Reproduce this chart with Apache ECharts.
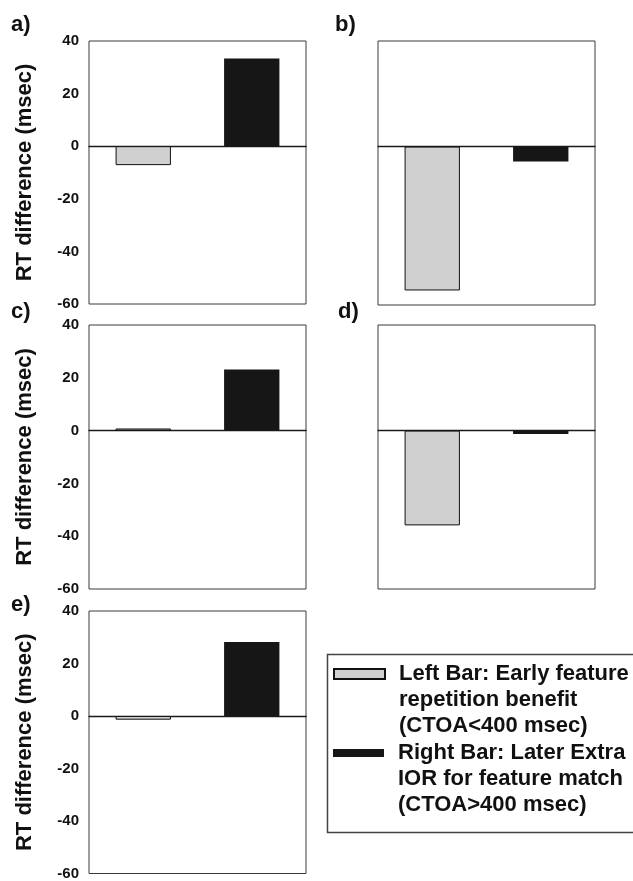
<!DOCTYPE html>
<html>
<head>
<meta charset="utf-8">
<script src="https://cdn.jsdelivr.net/npm/echarts@6/dist/echarts.min.js"></script>
<style>
html,body{margin:0;padding:0;background:#fff;}
#chart{width:633px;height:881px;}
</style>
</head>
<body>
<div id="chart"></div>
<script>
// ---- data ----
const categories = ['Left Bar', 'Right Bar'];
const panelLabels = ['a)', 'b)', 'c)', 'd)', 'e)'];
const leftBarValues = [-7.2, -54.5, 0.8, -35.9, -1.4];   // light grey bars
const rightBarValues = [33.3, -5.6, 23.1, -1.3, 28.2];   // black bars
const yMin = -60, yMax = 40, yStep = 20;
const yAxisTitle = 'RT difference (msec)';
const legendLines = [
  ['Left Bar: Early feature', 'repetition benefit', '(CTOA<400 msec)'],
  ['Right Bar: Later Extra', 'IOR for feature match', '(CTOA>400 msec)']
];

// ---- layout (pixels) ----
const panels = [
  {left: 89,  top: 41,  width: 217, height: 263, labels: true,  tx: 11,  ty: 14},
  {left: 378, top: 41,  width: 217, height: 264, labels: false, tx: 335, ty: 14},
  {left: 89,  top: 325, width: 217, height: 264, labels: true,  tx: 11,  ty: 301},
  {left: 378, top: 325, width: 217, height: 264, labels: false, tx: 338, ty: 301},
  {left: 89,  top: 611, width: 217, height: 263, labels: true,  tx: 11,  ty: 594}
];
const FONT = 'Liberation Sans, Arial, Helvetica, sans-serif';

const grid = [], xAxis = [], yAxis = [], series = [], title = [];
panels.forEach((p, i) => {
  grid.push({left: p.left, top: p.top, width: p.width, height: p.height,
    show: true, borderColor: '#3a3a3a', borderWidth: 1, backgroundColor: 'transparent', containLabel: false});
  xAxis.push({type: 'category', gridIndex: i, data: categories,
    axisLine: {show: true, onZero: true, lineStyle: {color: '#1a1a1a', width: 1.3}},
    axisTick: {show: false}, axisLabel: {show: false}, splitLine: {show: false}});
  yAxis.push({type: 'value', gridIndex: i, min: yMin, max: yMax, interval: yStep,
    axisLine: {show: false}, axisTick: {show: false}, splitLine: {show: false},
    axisLabel: {show: p.labels, margin: 10, color: '#111', fontSize: 15, fontWeight: 'bold', fontFamily: FONT},
    name: p.labels ? yAxisTitle : '', nameLocation: 'middle', nameGap: 53,
    nameTextStyle: {fontSize: 22, fontWeight: 'bold', color: '#111', fontFamily: FONT}});
  series.push({name: categories[0], type: 'bar', xAxisIndex: i, yAxisIndex: i,
    data: [leftBarValues[i], '-'], barWidth: '51%', barGap: '-100%',
    itemStyle: {color: '#d0d0d0', borderColor: '#111', borderWidth: 1}});
  series.push({name: categories[1], type: 'bar', xAxisIndex: i, yAxisIndex: i,
    data: ['-', rightBarValues[i]], barWidth: '51%', barGap: '-100%',
    itemStyle: {color: '#161616'}});
  title.push({text: panelLabels[i], left: p.tx, top: p.ty, padding: 0,
    textStyle: {fontSize: 22, fontWeight: 'bold', color: '#111', fontFamily: FONT}});
});

// two blank lines before the text so its first line sits level with the icon
const legendText = (i) => '\n\n' + legendLines[i].join('\n');
const legendTextStyle = {fontSize: 22, fontWeight: 'bold', color: '#111', fontFamily: FONT,
  lineHeight: 26, padding: [0, 0, 0, 9]};

const option = {
  backgroundColor: '#fff',
  animation: false,
  title: title,
  grid: grid,
  xAxis: xAxis,
  yAxis: yAxis,
  series: series,
  legend: [
    {data: [categories[0]], left: 333, top: 609, padding: 0, orient: 'vertical',
     icon: 'rect', itemWidth: 51, itemHeight: 10, selectedMode: false,
     formatter: () => legendText(0), textStyle: legendTextStyle},
    {data: [categories[1]], left: 333, top: 688, padding: 0, orient: 'vertical',
     icon: 'rect', itemWidth: 51, itemHeight: 8, selectedMode: false,
     formatter: () => legendText(1), textStyle: legendTextStyle}
  ],
  graphic: [
    {type: 'rect', left: 325, top: 652, shape: {width: 330, height: 178},
     style: {fill: 'none', stroke: '#444', lineWidth: 1.5}, silent: true}
  ]
};

const chart = echarts.init(document.getElementById('chart'), null, {renderer: 'canvas'});
chart.setOption(option);
</script>
</body>
</html>
